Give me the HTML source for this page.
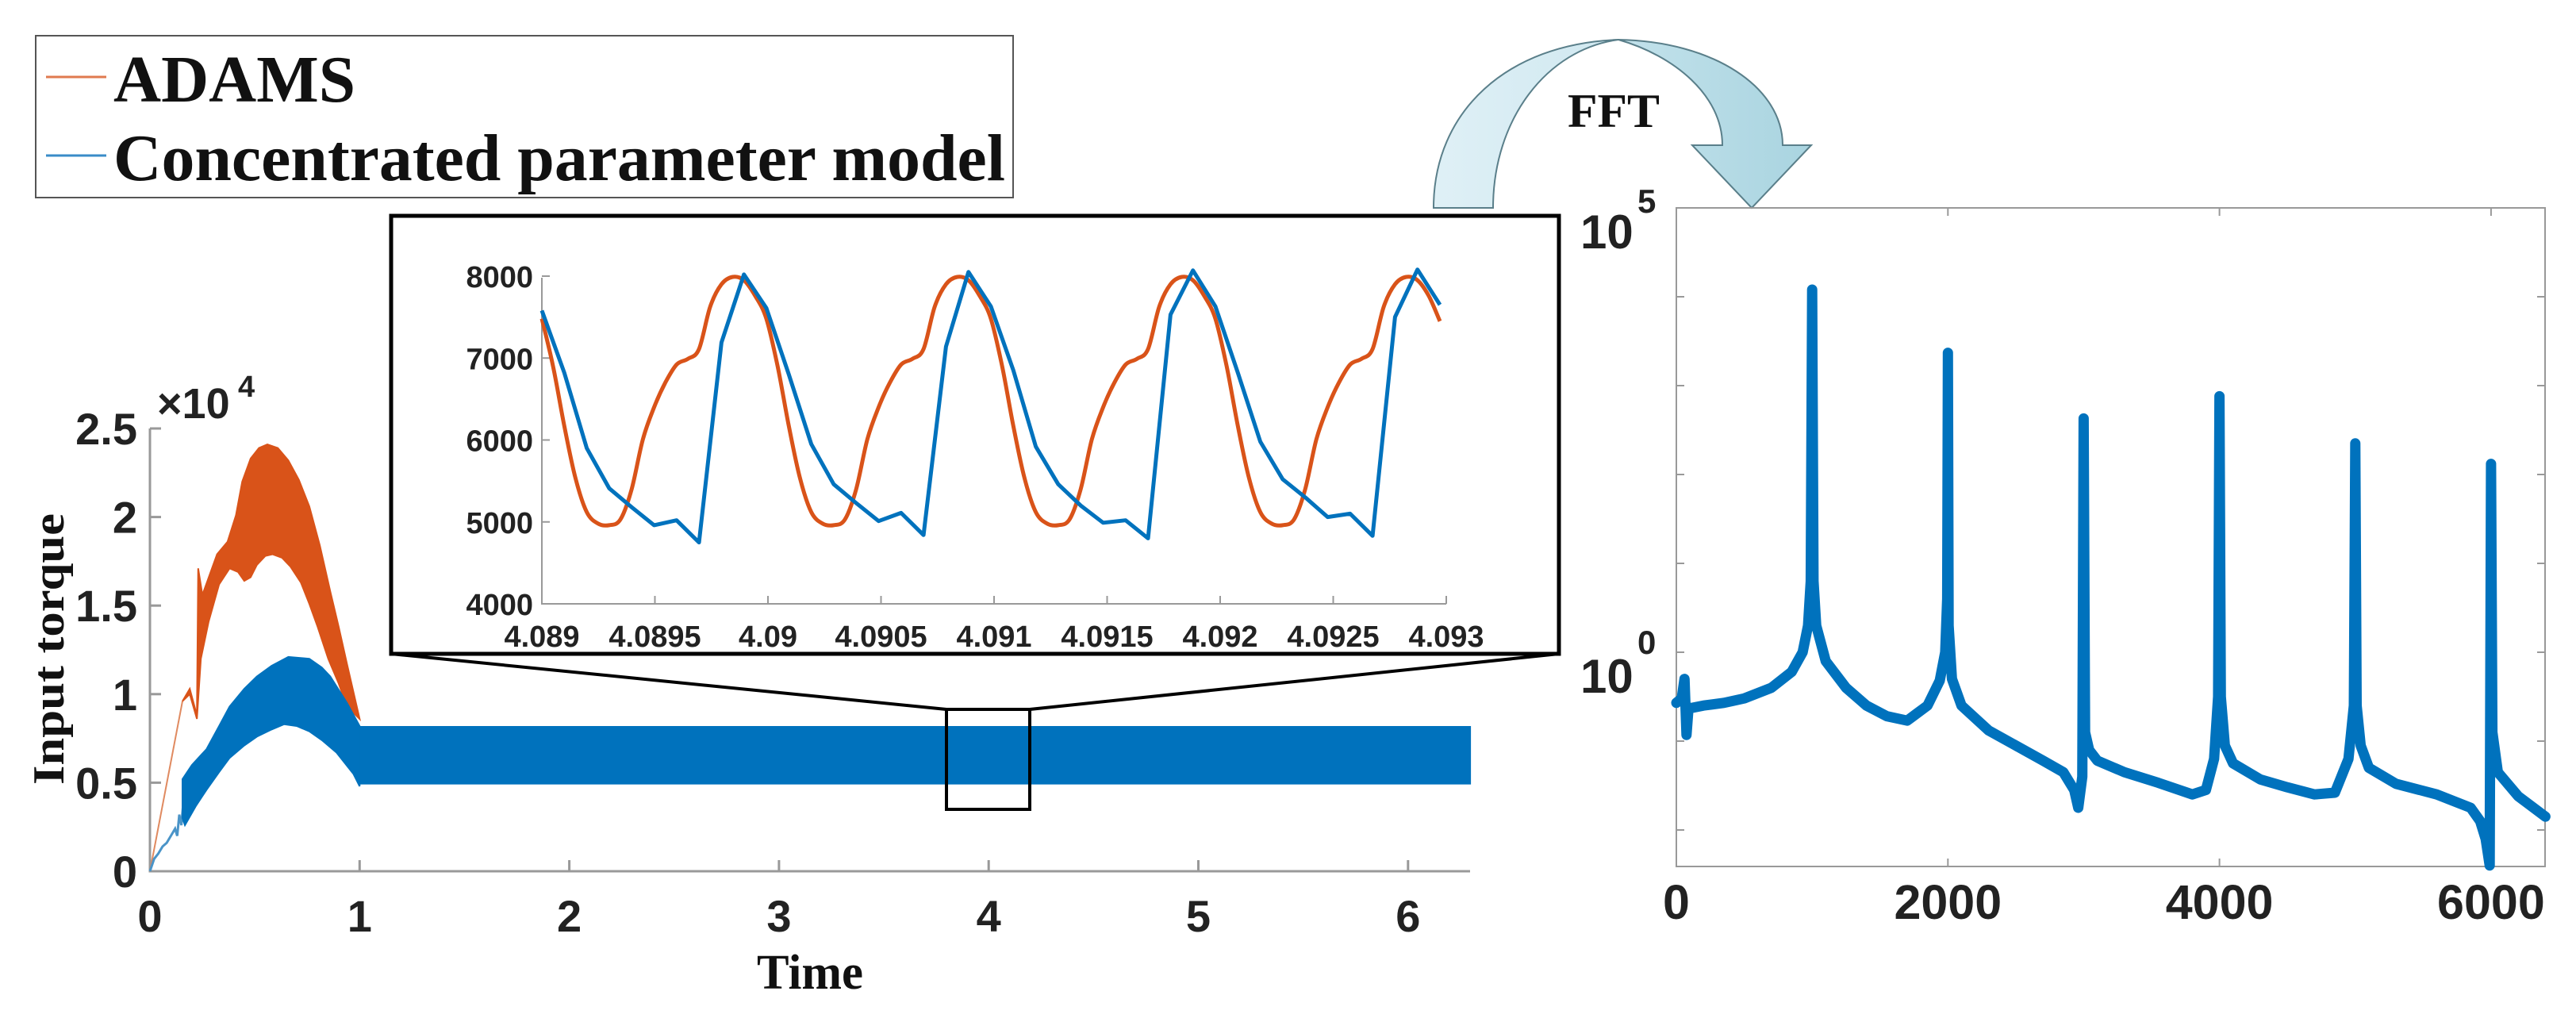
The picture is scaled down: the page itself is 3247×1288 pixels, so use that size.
<!DOCTYPE html>
<html><head><meta charset="utf-8"><style>
html,body{margin:0;padding:0;background:#fff;}
svg{display:block;}
.tk{font-family:"Liberation Sans",Arial,sans-serif;font-weight:bold;fill:#222;}
.tm{font-family:"Liberation Serif","Times New Roman",serif;font-weight:bold;fill:#111;}
</style></head><body>
<svg id="svg" width="3247" height="1288" viewBox="0 0 3247 1288" xmlns="http://www.w3.org/2000/svg">
<defs>
<linearGradient id="g1" x1="0" y1="0" x2="1" y2="0"><stop offset="0" stop-color="#dff0f6"/><stop offset="1" stop-color="#d0e8f0"/></linearGradient>
<linearGradient id="g2" x1="0" y1="0" x2="1" y2="0"><stop offset="0" stop-color="#c3e2eb"/><stop offset="1" stop-color="#a9d4e0"/></linearGradient>
</defs>
<g>
<rect x="45" y="45" width="1232" height="204" fill="#fff" stroke="#555" stroke-width="2"/>
<line x1="58" y1="97" x2="134" y2="97" stroke="#e07a4f" stroke-width="3"/>
<text class="tm" x="143" y="128" font-size="84" textLength="305" lengthAdjust="spacingAndGlyphs">ADAMS</text>
<line x1="58" y1="196" x2="134" y2="196" stroke="#3a8cc8" stroke-width="3"/>
<text class="tm" x="143" y="227" font-size="84" textLength="1124" lengthAdjust="spacingAndGlyphs">Concentrated parameter model</text>
</g>
<g>
<path d="M1807,262 C1807,140 1900,55 2040,50 C1950,62 1882,150 1882,262 Z" fill="url(#g1)" stroke="#5a7f8a" stroke-width="2"/>
<path d="M2040,50 C2160,52 2247,110 2247,183 L2283,183 L2208,262 L2133,183 L2171,183 C2171,120 2110,70 2040,50 Z" fill="url(#g2)" stroke="#5a7f8a" stroke-width="2"/>
<text class="tm" x="1976" y="160" font-size="60" textLength="116" lengthAdjust="spacingAndGlyphs">FFT</text>
</g>
<g id="main"></g>
<g id="inset"></g>
<g id="fft"></g>
</svg>
<script>
const mainXTicks = [0,1,2,3,4,5,6];
const mainYTicks = [0,0.5,1,1.5,2,2.5];
const adamsRiseT = [0,0.155];
const adamsRiseV = [0,0.96];
const adamsUpperT = [0.155,0.19,0.224,0.23,0.25,0.32,0.37,0.41,0.44,0.48,0.52,0.56,0.61,0.66,0.71,0.76,0.81,0.86,0.90,0.94,1.0];
const adamsUpperV = [0.96,1.03,0.88,1.71,1.56,1.79,1.86,2.01,2.2,2.33,2.39,2.41,2.39,2.32,2.21,2.06,1.84,1.58,1.38,1.17,0.86];
const adamsLowerT = [0.155,0.19,0.224,0.243,0.28,0.33,0.38,0.42,0.45,0.48,0.51,0.55,0.585,0.63,0.67,0.72,0.76,0.8,0.85,0.9,0.94,1.0];
const adamsLowerV = [0.96,1.0,0.86,1.2,1.41,1.62,1.71,1.69,1.64,1.66,1.73,1.78,1.79,1.77,1.72,1.63,1.51,1.38,1.2,1.06,0.93,0.86];
const modelRiseT = [0,0.02,0.04,0.06,0.08,0.1,0.12,0.13,0.14,0.15,0.16,0.167];
const modelRiseV = [0,0.07,0.1,0.14,0.16,0.2,0.24,0.2,0.32,0.26,0.4,0.3];
const modelUpperT = [0.155,0.2,0.27,0.33,0.38,0.45,0.51,0.58,0.66,0.76,0.82,0.86,0.94,1.0];
const modelUpperV = [0.52,0.6,0.69,0.82,0.93,1.03,1.1,1.16,1.21,1.2,1.15,1.1,0.95,0.82];
const modelLowerT = [0.155,0.167,0.22,0.27,0.33,0.38,0.45,0.51,0.58,0.64,0.7,0.76,0.82,0.89,0.97,1.0];
const modelLowerV = [0.3,0.26,0.37,0.46,0.56,0.64,0.71,0.76,0.8,0.83,0.82,0.79,0.74,0.67,0.55,0.48];
const steadyT = [1.0,6.3];
const steadyUpper = [0.82,0.82];
const steadyLower = [0.49,0.49];
const insetXTicks = ["4.089","4.0895","4.09","4.0905","4.091","4.0915","4.092","4.0925","4.093"];
const insetYTicks = [4000,5000,6000,7000,8000];
const adamsInset = [
7480,6900,6170,5530,5120,4980,4960,5030,5400,6010,6400,6700,6920,6990,7110,7630,7900,7990,7950,7760,
7480,6900,6170,5530,5120,4980,4960,5030,5400,6010,6400,6700,6920,6990,7110,7630,7900,7990,7950,7760,
7480,6900,6170,5530,5120,4980,4960,5030,5400,6010,6400,6700,6920,6990,7110,7630,7900,7990,7950,7760,
7480,6900,6170,5530,5120,4980,4960,5030,5400,6010,6400,6700,6920,6990,7110,7630,7900,7990,7950,7760,
7450];
const modelInset = [
7580,6820,5900,5410,5180,4960,5020,4750,7190,8020,
7610,6800,5950,5460,5230,5010,5110,4840,7140,8050,
7630,6850,5920,5460,5200,4990,5020,4800,7530,8070,
7630,6820,5980,5520,5300,5060,5100,4830,7500,8080,
7650];
const fftXTicks = [0,2000,4000,6000];
const fftF = [0,40,60,75,90,100,200,350,500,700,850,930,970,990,1000,1010,1030,1100,1250,1400,1550,1700,1850,1940,1980,1995,2000,2005,2030,2100,2300,2500,2700,2850,2930,2960,2990,3000,3010,3040,3100,3300,3550,3800,3900,3960,3990,4000,4010,4040,4100,4300,4500,4700,4850,4950,4990,5000,5010,5040,5100,5300,5600,5850,5920,5960,5990,6000,6010,6050,6200,6400];
const fftLog = [-0.57,-0.52,-0.3,-0.93,-0.62,-0.63,-0.6,-0.57,-0.52,-0.4,-0.22,0.0,0.3,0.8,4.08,0.8,0.3,-0.1,-0.4,-0.6,-0.72,-0.77,-0.6,-0.32,0.0,0.6,3.37,0.3,-0.3,-0.6,-0.88,-1.05,-1.22,-1.35,-1.55,-1.75,-1.4,2.63,-0.9,-1.1,-1.22,-1.35,-1.47,-1.6,-1.55,-1.2,-0.5,2.88,-0.5,-1.05,-1.25,-1.43,-1.52,-1.6,-1.58,-1.2,-0.6,2.35,-0.6,-1.05,-1.3,-1.48,-1.6,-1.75,-1.9,-2.1,-2.4,2.12,-0.9,-1.35,-1.62,-1.85];

const NS="http://www.w3.org/2000/svg";
function mk(tag,attrs,parent){const e=document.createElementNS(NS,tag);for(const k in attrs)e.setAttribute(k,attrs[k]);parent.appendChild(e);return e;}
function pts(xs,ys,fx,fy){return xs.map((x,i)=>fx(x).toFixed(1)+","+fy(ys[i]).toFixed(1)).join(" ");}
function smooth(p){let d="M"+p[0][0]+","+p[0][1];for(let i=0;i<p.length-1;i++){const a=p[Math.max(0,i-1)],b=p[i],c=p[i+1],n=p[Math.min(p.length-1,i+2)];const c1x=b[0]+(c[0]-a[0])/6,c1y=b[1]+(c[1]-a[1])/6,c2x=c[0]-(n[0]-b[0])/6,c2y=c[1]-(n[1]-b[1])/6;d+=` C${c1x.toFixed(1)},${c1y.toFixed(1)} ${c2x.toFixed(1)},${c2y.toFixed(1)} ${c[0].toFixed(1)},${c[1].toFixed(1)}`;}return d;}

const gm=document.getElementById('main');
const MX=t=>189+264.3*t, MY=v=>1098-223.2*v;
let e;
e=mk('path',{d:"M189,540 L189,1098 L1853,1098",fill:"none",stroke:"#999","stroke-width":3},gm);


mainXTicks.forEach(t=>{
 e=mk('line',{x1:MX(t),y1:1098,x2:MX(t),y2:1084,stroke:"#999","stroke-width":3},gm);
 
 
 e=mk('text',{x:MX(t),y:1174,"text-anchor":"middle","font-size":56,class:"tk"},gm);e.textContent=t;
 
 
});
mainYTicks.forEach(v=>{
 e=mk('line',{x1:189,y1:MY(v),x2:203,y2:MY(v),stroke:"#999","stroke-width":3},gm);
 
 
 e=mk('text',{x:173,y:MY(v)+20,"text-anchor":"end","font-size":56,class:"tk"},gm);e.textContent=v;
 
 
});
e=mk('text',{x:198,y:527,"font-size":54,class:"tk"},gm);e.textContent="×10";


e=mk('text',{x:300,y:500,"font-size":38,class:"tk"},gm);e.textContent="4";


e=mk('text',{x:1021,y:1246,"text-anchor":"middle","font-size":62,class:"tm",textLength:134,lengthAdjust:"spacingAndGlyphs"},gm);e.textContent="Time";


e=mk('text',{x:0,y:0,"text-anchor":"middle","font-size":56,class:"tm",textLength:342,lengthAdjust:"spacingAndGlyphs",transform:"translate(80,818) rotate(-90)"},gm);e.textContent="Input torque";


e=mk('polyline',{points:pts(adamsRiseT,adamsRiseV,MX,MY),fill:"none",stroke:"#e08a60","stroke-width":2},gm);


e=mk('polygon',{points:pts(adamsUpperT,adamsUpperV,MX,MY)+" "+pts(adamsLowerT.slice().reverse(),adamsLowerV.slice().reverse(),MX,MY),fill:"#d95319",stroke:"#d95319","stroke-width":2},gm);


e=mk('polyline',{points:pts(modelRiseT,modelRiseV,MX,MY),fill:"none",stroke:"#4a94c8","stroke-width":3},gm);


e=mk('polygon',{points:pts(modelUpperT,modelUpperV,MX,MY)+" "+pts(modelLowerT.slice().reverse(),modelLowerV.slice().reverse(),MX,MY),fill:"#0072bd",stroke:"#0072bd","stroke-width":2},gm);


e=mk('polygon',{points:pts(steadyT,steadyUpper,MX,MY)+" "+pts(steadyT.slice().reverse(),steadyLower.slice().reverse(),MX,MY),fill:"#0072bd"},gm);


e=mk('rect',{x:1193,y:894,width:105,height:126,fill:"none",stroke:"#000","stroke-width":4},gm);


e=mk('path',{d:"M493,824 L1193,894 M1965,824 L1298,894",stroke:"#000","stroke-width":4,fill:"none"},gm);



const gi=document.getElementById('inset');
e=mk('rect',{x:493,y:272,width:1472,height:552,fill:"#fff",stroke:"#000","stroke-width":5},gi);


const IX=i=>683+28.3*i, IY=v=>761-0.10325*(v-4000);
e=mk('path',{d:"M683,350 L683,761 L1823,761",fill:"none",stroke:"#999","stroke-width":2},gi);


insetXTicks.forEach((lab,i)=>{
 const x=683+142.5*i;
 e=mk('line',{x1:x,y1:761,x2:x,y2:751,stroke:"#999","stroke-width":2},gi);
 
 
 e=mk('text',{x:x,y:815,"text-anchor":"middle","font-size":38,class:"tk"},gi);e.textContent=lab;
 
 
});
insetYTicks.forEach(v=>{
 e=mk('line',{x1:683,y1:IY(v),x2:693,y2:IY(v),stroke:"#999","stroke-width":2},gi);
 
 
 e=mk('text',{x:672,y:IY(v)+14,"text-anchor":"end","font-size":38,class:"tk"},gi);e.textContent=v;
 
 
});
e=mk('path',{d:smooth(adamsInset.map((v,i)=>[683+14.15*i,IY(v)])),fill:"none",stroke:"#d95319","stroke-width":5,"stroke-linejoin":"round"},gi);


e=mk('polyline',{points:modelInset.map((v,i)=>IX(i).toFixed(1)+","+IY(v).toFixed(1)).join(" "),fill:"none",stroke:"#0072bd","stroke-width":5,"stroke-linejoin":"round"},gi);



const gf=document.getElementById('fft');
const FX=f=>2113+0.17115*f, FY=d=>822-112*d;
e=mk('rect',{x:2113,y:262,width:1095,height:830,fill:"none",stroke:"#999","stroke-width":2},gf);


fftXTicks.forEach(f=>{
 e=mk('path',{d:`M${FX(f)},1092 v-10 M${FX(f)},262 v10`,stroke:"#999","stroke-width":2},gf);
 
 
 e=mk('text',{x:FX(f),y:1158,"text-anchor":"middle","font-size":61,class:"tk"},gf);e.textContent=f;
 
 
});
[-2,-1,0,1,2,3,4,5].forEach(d=>{
 e=mk('path',{d:`M2113,${FY(d)} h10 M3208,${FY(d)} h-10`,stroke:"#999","stroke-width":2},gf);
 
 
});
e=mk('text',{x:1992,y:313,"font-size":60,class:"tk"},gf);e.textContent="10";


e=mk('text',{x:2064,y:268,"font-size":42,class:"tk"},gf);e.textContent="5";


e=mk('text',{x:1992,y:873,"font-size":60,class:"tk"},gf);e.textContent="10";


e=mk('text',{x:2064,y:824,"font-size":42,class:"tk"},gf);e.textContent="0";


e=mk('polyline',{points:pts(fftF,fftLog,FX,FY),fill:"none",stroke:"#0072bd","stroke-width":13,"stroke-linejoin":"round","stroke-linecap":"round"},gf);


</script>
</body></html>
